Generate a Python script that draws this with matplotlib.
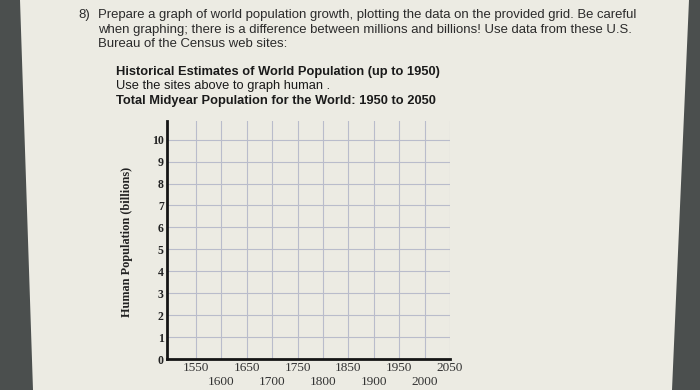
import matplotlib
matplotlib.use("Agg")
import matplotlib.pyplot as plt
from matplotlib.patches import Polygon

# ---- data ----
years = [1550, 1600, 1650, 1700, 1750, 1800, 1850, 1900, 1950, 2000, 2050]
pop_ticks = [0, 1, 2, 3, 4, 5, 6, 7, 8, 9, 10]
intro_lines = [
    "Prepare a graph of world population growth, plotting the data on the provided grid. Be careful",
    "when graphing; there is a difference between millions and billions! Use data from these U.S.",
    "Bureau of the Census web sites:",
]
source_lines = [
    ("Historical Estimates of World Population (up to 1950)", "bold"),
    ("Use the sites above to graph human .", "normal"),
    ("Total Midyear Population for the World: 1950 to 2050", "bold"),
]
ylabel = "Human Population (billions)"

W, H = 700, 390
fig = plt.figure(figsize=(W / 100, H / 100), dpi=100)
fig.patch.set_facecolor("#4b4f4e")

# paper sheet
bg = fig.add_axes([0, 0, 1, 1], zorder=-5)
bg.set_xlim(0, W)
bg.set_ylim(H, 0)
bg.axis("off")
bg.add_patch(Polygon([(20, 0), (689, 0), (672, H), (33, H)], closed=True,
                     facecolor="#ecebe3", edgecolor="none"))

def px(x, y):
    return x / W, 1 - y / H

sans = ["Liberation Sans", "DejaVu Sans"]
serif = ["Liberation Serif", "DejaVu Serif"]
txtc = "#2b2b2b"

fig.text(*px(78, 15), "8)", fontsize=9.45, family=sans, color=txtc, va="center")
for i, line in enumerate(intro_lines):
    fig.text(*px(98, 15 + 14.5 * i), line, fontsize=9.45, family=sans, color=txtc, va="center")
for i, (line, w) in enumerate(source_lines):
    fig.text(*px(116, 72 + 14.5 * i), line, fontsize=9.3, family=sans, color="#1a1a1a",
             fontweight=w, va="center")

# ---- grid chart ----
left, right, top, bottom = 166.5, 450, 121, 359
ax = fig.add_axes([left / W, 1 - bottom / H, (right - left) / W, (bottom - top) / H])
ax.set_facecolor("none")
ax.set_xlim(1492, 2050)
ax.set_ylim(0, 10.85)

for y in pop_ticks[1:]:
    ax.axhline(y, color="#b9bccb", lw=0.8, zorder=1)
for x in years:
    ax.axvline(x, color="#b9bccb", lw=0.8, zorder=1)

for s in ["top", "right"]:
    ax.spines[s].set_visible(False)
for s in ["left", "bottom"]:
    ax.spines[s].set_linewidth(2.0)
    ax.spines[s].set_color("#151515")
    ax.spines[s].set_zorder(3)

ax.set_yticks(pop_ticks)
ax.set_yticklabels([str(v) for v in pop_ticks], family=serif, fontweight="bold",
                   fontsize=8.5, color="#222222")
ax.set_xticks(years)
ax.set_xticklabels([str(v) if i % 2 == 0 else "\n" + str(v) for i, v in enumerate(years)],
                   family=serif, fontsize=9.5, color="#333333", linespacing=1.2)
ax.tick_params(axis="both", length=0)
ax.tick_params(axis="y", pad=2)
ax.tick_params(axis="x", pad=2)

ax.set_ylabel(ylabel, family=serif, fontweight="bold", fontsize=8.8, color="#222222", va="center")
ax.yaxis.set_label_coords((127 - left) / (right - left), 0.49)

fig.savefig("out.png", dpi=100, facecolor=fig.get_facecolor())
